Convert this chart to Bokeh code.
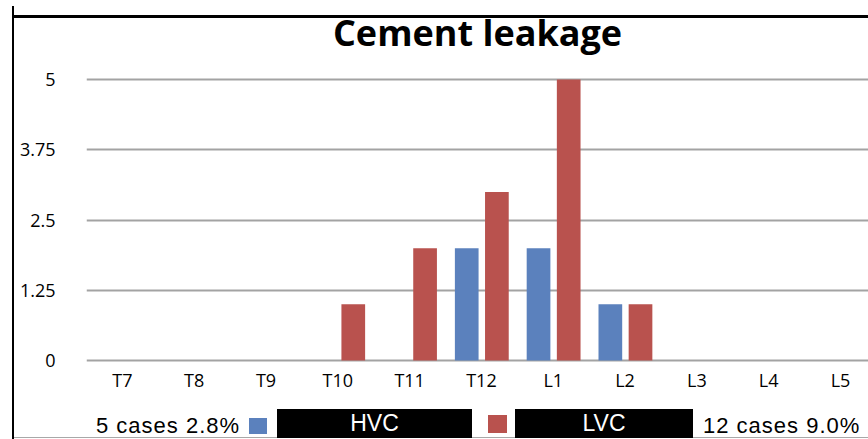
from bokeh.plotting import figure
from bokeh.models import ColumnDataSource, Range1d, FixedTicker, Div, Spacer
from bokeh.transform import dodge
from bokeh.layouts import column, row
from bokeh.embed import file_html
from bokeh.resources import INLINE

# ---- data ----
categories = ["T7", "T8", "T9", "T10", "T11", "T12", "L1", "L2", "L3", "L4", "L5"]
hvc = [0, 0, 0, 0, 0, 2, 2, 1, 0, 0, 0]
lvc = [0, 0, 0, 1, 2, 3, 5, 1, 0, 0, 0]
y_ticks = [0, 1.25, 2.5, 3.75, 5]
y_tick_labels = ["0", "1.25", "2.5", "3.75", "5"]
series_names = ["HVC", "LVC"]
series_colors = ["#5B81BD", "#B9524E"]
hvc_note = "5 cases 2.8%"
lvc_note = "12 cases 9.0%"
title_text = "Cement leakage"

x_pos = [i + 0.5 for i in range(len(categories))]
src = ColumnDataSource(dict(x=x_pos, hvc=hvc, lvc=lvc, cat=categories))

TOP = 9
W, H = 854, 393
p = figure(width=W, height=H, output_backend="svg", toolbar_location=None,
           x_range=Range1d(0, 10.89), y_range=Range1d(-0.053, 5.481),
           min_border_left=72, min_border_right=0, min_border_top=43,
           min_border_bottom=39, title=title_text, margin=(TOP, 0, 0, 0))
p.outline_line_color = None
p.background_fill_color = "white"
p.border_fill_color = "white"

p.title.text_font = "Open Sans"
p.title.text_font_size = "36px"
p.title.text_font_style = "bold"
p.title.align = "center"
p.title.text_color = "#000000"
p.title.standoff = -8

bw = 0.33
p.vbar(x=dodge("x", -0.205, range=p.x_range), top="hvc", width=bw, source=src,
       fill_color=series_colors[0], line_color=None)
p.vbar(x=dodge("x", 0.215, range=p.x_range), top="lvc", width=bw, source=src,
       fill_color=series_colors[1], line_color=None)

# axes
p.xaxis.ticker = FixedTicker(ticks=x_pos)
p.xaxis.major_label_overrides = {x: c for x, c in zip(x_pos, categories)}
p.yaxis.ticker = FixedTicker(ticks=y_ticks)
p.yaxis.major_label_overrides = {t: l for t, l in zip(y_ticks, y_tick_labels)}
for ax in (p.xaxis, p.yaxis):
    ax.axis_line_color = None
    ax.major_tick_line_color = None
    ax.minor_tick_line_color = None
    ax.major_tick_out = 0
    ax.major_tick_in = 0
    ax.minor_tick_out = 0
    ax.minor_tick_in = 0
    ax.axis_label_standoff = 0
    ax.major_label_text_font = "Open Sans"
    ax.major_label_text_font_size = "18px"
    ax.major_label_text_color = "#000000"
p.yaxis.major_label_standoff = 31
p.xaxis.major_label_standoff = 4

p.xgrid.grid_line_color = None
p.ygrid.grid_line_color = "#A3A3A3"
p.ygrid.grid_line_width = 2

# legend row
txt = "position:absolute;top:13px;font-size:22px;line-height:22px;letter-spacing:1px;white-space:nowrap;"
box = "position:absolute;top:7px;height:29px;background:#000;color:#fff;font-size:23px;line-height:29px;text-align:center;"
legend_html = f"""
<div style="position:relative;width:{W}px;height:36px;border-bottom:1px solid #A8A8A8;
 font-family:'Liberation Sans',Arial,sans-serif;color:#000;">
 <span style="{txt}left:82px;">{hvc_note}</span>
 <span style="position:absolute;left:235px;top:16px;width:18px;height:16px;background:{series_colors[0]};"></span>
 <span style="{box}left:263px;width:195px;">{series_names[0]}</span>
 <span style="position:absolute;left:474px;top:13px;width:19px;height:18px;background:{series_colors[1]};"></span>
 <span style="{box}left:501px;width:178px;">{series_names[1]}</span>
 <span style="{txt}left:689px;">{lvc_note}</span>
</div>
"""
legend_div = Div(text=legend_html, width=W, height=37, margin=0)
# frame lines of the original figure
top_bar = Div(text=f'<div style="width:{W}px;height:3px;background:#000;"></div>',
              width=W, height=3, margin=(-(TOP + H) + 6, 0, (TOP + H) - 9, 0))
left_bar = Div(text='<div style="padding-top:6px;"><div style="width:2px;height:433px;background:#000;"></div></div>',
               width=2, height=439, margin=0)

layout = row(Spacer(width=12, height=439, margin=0), left_bar,
             column(p, top_bar, legend_div, margin=0), margin=0)

open("out.html", "w").write(file_html(layout, INLINE))
